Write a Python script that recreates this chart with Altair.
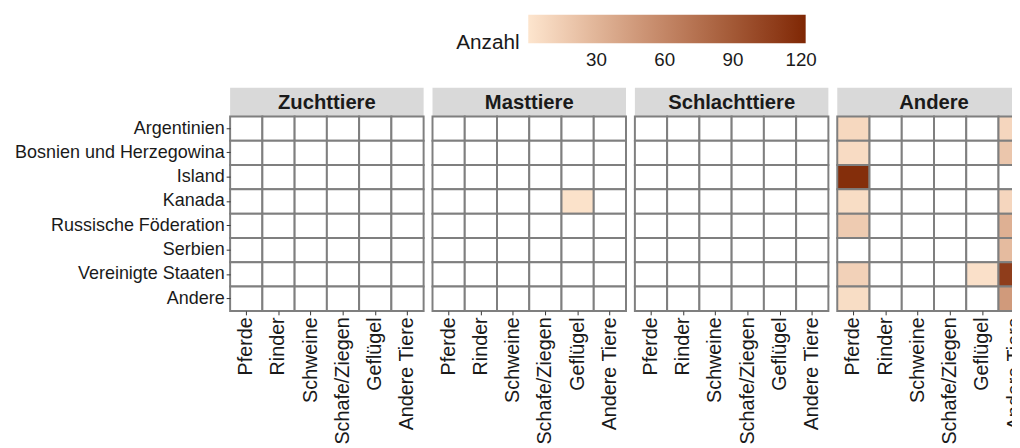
import altair as alt
import pandas as pd

countries = ["Argentinien", "Bosnien und Herzegowina", "Island", "Kanada",
             "Russische Föderation", "Serbien", "Vereinigte Staaten", "Andere"]
animals = ["Pferde", "Rinder", "Schweine", "Schafe/Ziegen", "Geflügel", "Andere Tiere"]
categories = ["Zuchttiere", "Masttiere", "Schlachttiere", "Andere"]

# rows = countries, columns = animals
zuchttiere = [[0] * 6 for _ in countries]
masttiere = [[0, 0, 0, 0, 0, 0],
             [0, 0, 0, 0, 0, 0],
             [0, 0, 0, 0, 0, 0],
             [0, 0, 0, 0, 2, 0],
             [0, 0, 0, 0, 0, 0],
             [0, 0, 0, 0, 0, 0],
             [0, 0, 0, 0, 0, 0],
             [0, 0, 0, 0, 0, 0]]
schlachttiere = [[0] * 6 for _ in countries]
andere = [[8, 0, 0, 0, 0, 9],
          [6, 0, 0, 0, 0, 19],
          [118, 0, 0, 0, 0, 0],
          [5, 0, 0, 0, 0, 9],
          [16, 0, 0, 0, 0, 33],
          [0, 0, 0, 0, 0, 26],
          [12, 0, 0, 0, 3, 108],
          [5, 0, 0, 0, 0, 47]]
matrices = [zuchttiere, masttiere, schlachttiere, andere]

legend_values = [30, 60, 90, 120]
color_domain = [0, 122]
color_range = ["#FDE5CE", "#7F2704"]

rows = []
for cat, mat in zip(categories, matrices):
    for i, land in enumerate(countries):
        for j, tier in enumerate(animals):
            rows.append({"Kategorie": cat, "Land": land, "Tier": tier, "Anzahl": mat[i][j]})
df = pd.DataFrame(rows)

W, H = 196, 197
FONT = "Liberation Sans"

color_enc = alt.condition(
    "datum.Anzahl > 0",
    alt.Color("Anzahl:Q",
              scale=alt.Scale(domain=color_domain, range=color_range, interpolate="lab"),
              legend=alt.Legend(orient="none", legendX=229, legendY=-103,
                                direction="horizontal", gradientLength=281,
                                gradientThickness=29, titleOrient="left",
                                values=legend_values, labelFontSize=19,
                                titleFontSize=21, titleFontWeight="normal",
                                titleColor="#1A1A1A", labelColor="#1A1A1A",
                                titleFont=FONT, labelFont=FONT, labelOffset=8,
                                titleAnchor="end", titleBaseline="middle",
                                titlePadding=8, gradientStrokeWidth=0,
                                title="Anzahl")),
    alt.value("white"))

panels = []
for k, cat in enumerate(categories):
    heat = alt.Chart(df).transform_filter(alt.datum.Kategorie == cat).mark_rect(
        stroke="#7F7F7F", strokeWidth=2
    ).encode(
        x=alt.X("Tier:N", sort=animals, title=None,
                axis=alt.Axis(labelAngle=-90)),
        y=alt.Y("Land:N", sort=countries, title=None,
                axis=alt.Axis() if k == 0 else None),
        color=color_enc,
    )
    sdata = alt.Data(values=[{"k": cat}])
    strip = alt.Chart(sdata).mark_rect(color="#D9D9D9").encode(
        x=alt.value(0), x2=alt.value(W), y=alt.value(-29), y2=alt.value(0))
    label = alt.Chart(sdata).mark_text(fontWeight="bold", fontSize=20.5, font=FONT,
                                       color="#1A1A1A", baseline="middle").encode(
        x=alt.value(W / 2), y=alt.value(-14), text="k:N")
    panels.append(alt.layer(strip, label, heat).properties(width=W, height=H))

chart = alt.hconcat(*panels, spacing=7).properties(
    padding={"left": 6, "top": 4, "right": -20, "bottom": -3}
).configure_view(stroke=None).configure_axis(
    domain=False, grid=False, ticks=True, tickColor="#333333", tickSize=4,
    labelFont=FONT, labelColor="#1A1A1A", labelPadding=2, labelLimit=400
).configure_axisX(labelFontSize=20).configure_axisY(labelFontSize=18.2)

chart.save("out.html", embed_options={"renderer": "svg", "actions": False})
